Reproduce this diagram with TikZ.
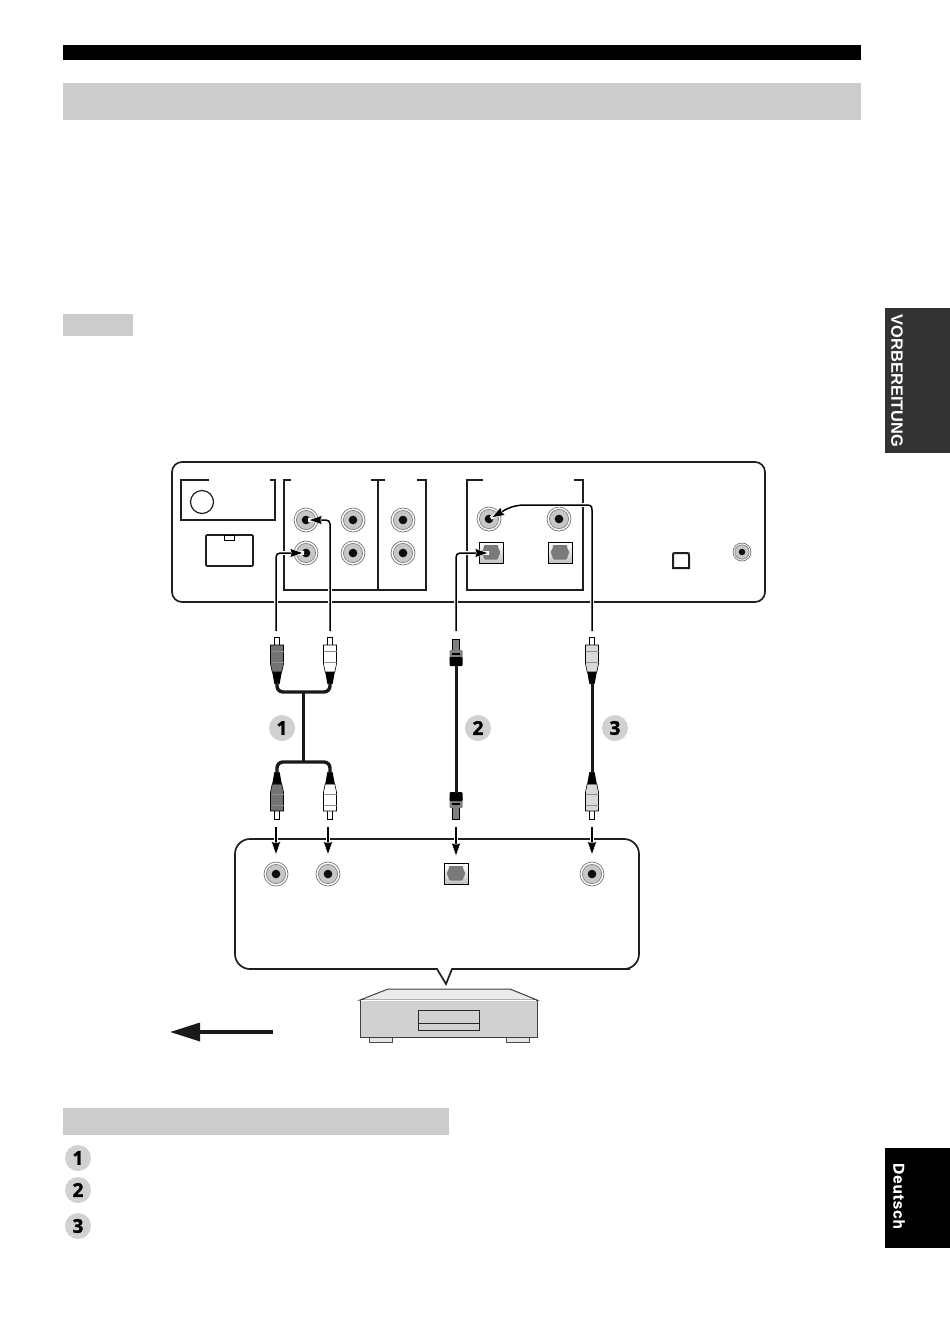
\documentclass[tikz,border=0pt]{standalone}
\usepackage{fontspec}
\setmainfont{Liberation Sans}
\newfontfamily\numfont[BoldFeatures={FakeBold=1.6}]{Open Sans}
\newfontfamily\tabfont[LetterSpace=5,BoldFeatures={FakeBold=0.6}]{Liberation Sans}
\usetikzlibrary{arrows.meta}
\definecolor{barcol}{gray}{0.80}
\definecolor{numcol}{gray}{0.82}
\tikzset{
  jack/.style={circle,draw=black!55,fill=white,line width=.7pt,inner sep=0pt,minimum size=#1 pt,
    path picture={
      \draw[fill=black!22,draw=black!50,line width=.7pt] (path picture bounding box.center) circle ({#1*0.40 pt});
      \fill[black!95] (path picture bounding box.center) circle ({#1*0.18 pt});}},
  jack/.default=24,
  optjack/.style={rectangle,draw=black,top color=white,bottom color=black!25,line width=1pt,inner sep=0pt,minimum width=24pt,minimum height=21pt,
    path picture={
      \fill[black!52,rounded corners=.8pt,shift={(path picture bounding box.center)}]
        (-7,-8)--(7,-8)--(7.5,-4)--(9.4,-1)--(7.8,3)--(6.5,6.5)--(-6.5,6.5)--(-7.8,3)--(-9.4,-1)--(-7.5,-4)--cycle;}},
  panelline/.style={line width=1.7pt,black!88},
  link/.style={line width=1.5pt,-{Stealth[length=14.5pt,width=10pt,inset=1.5pt,fill=black,color=white,line width=.5pt]},shorten >=2pt,
    preaction={draw,white,line width=3.6pt,-}},
  cable/.style={line width=3pt,black!90,rounded corners=6pt},
  num/.style={circle,fill=numcol,inner sep=0pt,minimum size=26pt,font=\numfont\bfseries\fontsize{19}{19}\selectfont},
  tabtext/.style={rotate=-90,text=white,inner sep=0pt},
  pics/rca/.style={code={
    \draw[line width=.6pt,fill=white] (-2.6,0) -- (2.6,0) -- (2.6,9) -- (-2.6,9) -- cycle;
    \draw[line width=.6pt,fill=#1] (-6.5,8) -- (6.5,8) -- (6.5,27) -- (4.8,35) -- (-4.8,35) -- (-6.5,27) -- cycle;
    \draw[black!45,line width=.4pt] (-6.5,14) -- (6.5,14) (-6.5,25) -- (6.5,25);
    \fill[black] (-4.8,35) -- (4.8,35) -- (2.6,47) -- (-2.6,47) -- cycle;}},
  pics/optplug/.style={code={
    \draw[line width=.6pt,fill=black!50] (-3.5,0) rectangle (3.5,12);
    \fill[black!50,rounded corners=1pt] (-6.5,11) rectangle (6.5,22);
    \fill[black,rounded corners=1pt] (-6.5,18) rectangle (6.5,27);
    \fill[black] (-4,14) rectangle (4,16);}},
}
\begin{document}
\begin{tikzpicture}[x=1pt,y=-1pt]
\useasboundingbox (0,0) rectangle (950,1342);
% page furniture
\fill[black] (63,45) rectangle (861,60);
\fill[barcol] (63,83) rectangle (861,120);
\fill[barcol] (63,314) rectangle (133,336);
\fill[barcol] (63,1108) rectangle (449,1135);
\fill[black!80] (885,308) rectangle (950,453);
\fill[black] (885,1148) rectangle (950,1248);
\node[tabtext,font=\bfseries\fontsize{16.4}{16.4}\selectfont] (tabA) at (897,381) {VORBEREITUNG};
\node[tabtext,font=\tabfont\bfseries\fontsize{15.5}{15.5}\selectfont] (tabB) at (899,1196) {Deutsch};
% rear panel
\draw[panelline,rounded corners=10pt] (172,462) rectangle (765,602);
\draw[panelline] (209,480) -- (181,480) -- (181,520) -- (275,520) -- (275,480) -- (270,480);
\draw[panelline,line width=1.2pt] (202,502) circle (11.5);
\draw[panelline,rounded corners=1pt] (206,535) rectangle (253,566);
\draw[line width=.9pt] (224,535) rectangle (234,540);
\draw[panelline] (291,480) -- (284,480) -- (284,590) -- (426,590) -- (426,480) -- (417,480);
\draw[panelline] (371,480) -- (378,480) -- (378,590);
\draw[panelline] (385,480) -- (378,480);
\draw[panelline] (483,480) -- (467,480) -- (467,590) -- (583,590) -- (583,480) -- (574,480);
\node[jack] (pj1) at (306,520) {};
\node[jack] (pj2) at (306,553) {};
\node[jack] (pj3) at (353,520) {};
\node[jack] (pj4) at (353,553) {};
\node[jack] (pj5) at (403,520) {};
\node[jack] (pj6) at (403,553) {};
\node[jack] (pj7) at (489,519) {};
\node[jack] (pj8) at (559,519) {};
\node[optjack] (po1) at (491,553) {};
\node[optjack] (po2) at (560,553) {};
\node[jack=18] (pj9) at (742,552) {};
\draw[panelline,line width=2pt] (673,568) -- (673,556) .. controls (673,553) .. (676,553) -- (686,553) .. controls (689,553) .. (689,556) -- (689,568) -- cycle;
% links to the panel
\coordinate (a1) at (276,631);
\coordinate (a2) at (330,631);
\coordinate (a3) at (456,631);
\coordinate (a4) at (592,631);
\draw[link,rounded corners=4pt] (a1) |- (pj2.center);
\draw[link,rounded corners=4pt] (a2) |- (pj1.center);
\draw[link,rounded corners=4pt] (a3) |- (po1.center);
\draw[link] (a4) -- (592,510) .. controls (592,505) and (590,505) .. (585,505) -- (525,505) .. controls (512,505) and (505,510) .. (pj7.center);
% plugs
\pic at (277,637) {rca=black!55};
\pic at (330,637) {rca=white};
\pic at (592,637) {rca=black!15};
\pic at (456,639) {optplug};
\pic[yscale=-1] at (277,819) {rca=black!55};
\pic[yscale=-1] at (330,819) {rca=white};
\pic[yscale=-1] at (592,819) {rca=black!15};
\pic[yscale=-1] at (456,819) {optplug};
% cables
\coordinate (c1) at (277,683);
\coordinate (c2) at (330,683);
\coordinate (c3) at (277,773);
\coordinate (c4) at (330,773);
\coordinate (c5) at (303,692);
\coordinate (c6) at (303,762);
\coordinate (c7) at (456,665);
\coordinate (c8) at (456,793);
\coordinate (c9) at (592,683);
\coordinate (c10) at (592,773);
\draw[cable,line width=3.4pt] (c1) |- (c5) -| (c2);
\draw[cable,line width=3.4pt] (c3) |- (c6) -| (c4);
\draw[line width=3pt,black!90] (c5) -- (c6);
\draw[cable] (c7) -- (c8);
\draw[cable] (c9) -- (c10);
\node[num] (n1) at (282,728) {1};
\node[num] (n2) at (478,728) {2};
\node[num] (n3) at (615,728) {3};
% callout
\draw[panelline,fill=white] (446,984) -- (437,969) -- (260,969) [rounded corners=15pt] -- (235,969) -- (235,839) -- (639,839) -- (639,969) -- (615,969) [sharp corners] -- (452,969) -- cycle;
\node[jack] (cj1) at (276,874) {};
\node[jack] (cj2) at (328,874) {};
\node[jack] (cj3) at (592,874) {};
\node[optjack] (co1) at (456,874) {};
\coordinate (d1) at (276,827);
\coordinate (d2) at (328,827);
\coordinate (d3) at (456,827);
\coordinate (d4) at (592,827);
\draw[link,shorten >=6pt] (d1) -- (cj1.north);
\draw[link,shorten >=6pt] (d2) -- (cj2.north);
\draw[link,shorten >=6pt] (d3) -- (co1.north);
\draw[link,shorten >=6pt] (d4) -- (cj3.north);
% player
\draw[line width=.8pt,black!70,fill=black!10] (369,1037) rectangle (392,1042);
\draw[line width=.8pt,black!70,fill=black!10] (506,1037) rectangle (529,1042);
\draw[line width=1pt,black!75,fill=black!8] (360,1000) -- (388,989) -- (510,989) -- (537,1000) -- cycle;
\draw[line width=1pt,black!75,fill=black!18] (360,1000) rectangle (537,1037);
\draw[white,line width=1pt] (361,1000) -- (536,1000);
\draw[line width=1pt,black!85] (418,1010) rectangle (479,1030);
\draw[line width=1pt,black!85] (418,1023) -- (479,1023);
% direction arrow
\coordinate (b1) at (273,1032);
\coordinate (b2) at (170,1032);
\draw[line width=3.4pt,black!90,-{Stealth[length=30pt,width=18pt,inset=0pt]}] (b1) -- (b2);
% list
\node[num] (l1) at (78,1158) {1};
\node[num] (l2) at (78,1190) {2};
\node[num] (l3) at (78,1226) {3};
\end{tikzpicture}
\end{document}
